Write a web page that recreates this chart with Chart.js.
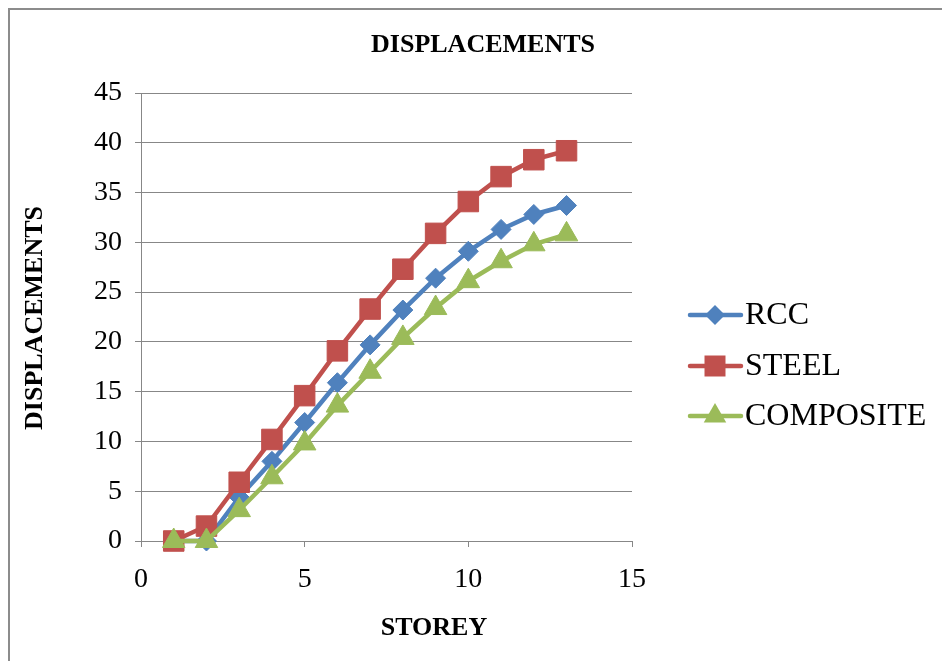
<!DOCTYPE html>
<html>
<head>
<meta charset="utf-8">
<title>DISPLACEMENTS</title>
<script src="https://cdn.jsdelivr.net/npm/chart.js@4"></script>
<style>
  html, body { margin: 0; padding: 0; background: #ffffff; }
  #wrap { position: relative; width: 942px; height: 661px; overflow: hidden; }
  canvas { display: block; }
</style>
</head>
<body>
<div id="wrap"><canvas id="chart" width="942" height="661"></canvas></div>
<script>
// Storey numbers and lateral displacement per structural system
const storeys = [1, 2, 3, 4, 5, 6, 7, 8, 9, 10, 11, 12, 13];
const rcc = [0, 0, 4.4, 8.0, 11.9, 15.9, 19.7, 23.2, 26.4, 29.1, 31.3, 32.8, 33.7];
const steel = [0, 1.5, 5.9, 10.2, 14.6, 19.1, 23.3, 27.3, 30.9, 34.1, 36.6, 38.3, 39.2];
const composite = [0, 0, 3.1, 6.4, 9.8, 13.6, 17.0, 20.4, 23.4, 26.1, 28.1, 29.8, 30.8];

const seriesNames = ['RCC', 'STEEL', 'COMPOSITE'];
const chartTitle = 'DISPLACEMENTS';
const xTitle = 'STOREY';
const yTitle = 'DISPLACEMENTS';
const xTicks = [0, 5, 10, 15];
const yTicks = [0, 5, 10, 15, 20, 25, 30, 35, 40, 45];

const SERIF = '"Liberation Serif", "Times New Roman", serif';
const GRID = '#878787';

function toPoints(values) {
  return storeys.map((s, i) => ({ x: s, y: values[i] }));
}

const styles = [
  { color: '#4F81BD', point: 'rectRot', radius: 10 },
  { color: '#C0504D', point: 'rect', radius: 14.5 },
  { color: '#9BBB59', point: 'triangle', radius: 13 }
];

const datasets = [rcc, steel, composite].map((vals, i) => ({
  label: seriesNames[i],
  data: toPoints(vals),
  borderColor: styles[i].color,
  backgroundColor: styles[i].color,
  borderWidth: 4.5,
  pointStyle: styles[i].point,
  pointRadius: styles[i].radius,
  pointHoverRadius: styles[i].radius,
  pointBorderWidth: 1,
  pointBorderColor: styles[i].color,
  pointBackgroundColor: styles[i].color,
  tension: 0,
  clip: false,
  order: 2 - i
}));

// Frame, titles and the series key drawn onto the canvas
const decorations = {
  id: 'decorations',
  beforeDraw(chart) {
    const ctx = chart.ctx;
    ctx.save();
    ctx.strokeStyle = '#8c8c8c';
    ctx.lineWidth = 2;
    ctx.beginPath();
    ctx.moveTo(9, 700);
    ctx.lineTo(9, 9);
    ctx.lineTo(960, 9);
    ctx.stroke();
    ctx.restore();
  },
  afterDraw(chart) {
    const ctx = chart.ctx;
    ctx.save();
    ctx.fillStyle = '#000000';
    ctx.textAlign = 'center';
    ctx.textBaseline = 'middle';
    ctx.font = 'bold 26px ' + SERIF;
    ctx.fillText(chartTitle, 483, 45);
    ctx.fillText(xTitle, 434, 628);
    ctx.save();
    ctx.translate(35, 318);
    ctx.rotate(-Math.PI / 2);
    ctx.fillText(yTitle, 0, 0);
    ctx.restore();

    // series key
    const rows = [315, 366, 416];
    chart.data.datasets.forEach((ds, i) => {
      const y = rows[i];
      const st = styles[i];
      ctx.strokeStyle = st.color;
      ctx.lineWidth = 4.5;
      ctx.lineCap = 'round';
      ctx.beginPath();
      ctx.moveTo(690, y);
      ctx.lineTo(741, y);
      ctx.stroke();
      ctx.fillStyle = st.color;
      const cx = 715;
      ctx.beginPath();
      if (st.point === 'rectRot') {
        const r = 10;
        ctx.moveTo(cx - r, y); ctx.lineTo(cx, y - r); ctx.lineTo(cx + r, y); ctx.lineTo(cx, y + r);
      } else if (st.point === 'rect') {
        const h = 10.5;
        ctx.rect(cx - h, y - h, 2 * h, 2 * h);
      } else {
        const r = 13;
        ctx.moveTo(cx, y - r);
        ctx.lineTo(cx + r * Math.sin(2 * Math.PI / 3), y + r / 2);
        ctx.lineTo(cx - r * Math.sin(2 * Math.PI / 3), y + r / 2);
      }
      ctx.closePath();
      ctx.fill();
      ctx.fillStyle = '#000000';
      ctx.textAlign = 'left';
      ctx.font = '32px ' + SERIF;
      ctx.fillText(ds.label, 745, y + 1);
    });
    ctx.restore();
  }
};

new Chart(document.getElementById('chart'), {
  type: 'line',
  data: { datasets },
  options: {
    responsive: false,
    animation: false,
    events: [],
    layout: { padding: { top: 93, right: 310, left: 0, bottom: 0 } },
    plugins: {
      legend: { display: false },
      title: { display: false },
      tooltip: { enabled: false }
    },
    scales: {
      x: {
        type: 'linear',
        min: 0,
        max: 15,
        afterFit(scale) { scale.height = 120; },
        afterBuildTicks(scale) { scale.ticks = xTicks.map(v => ({ value: v })); },
        ticks: {
          color: '#000000',
          font: { family: SERIF, size: 28 },
          padding: 16,
          maxRotation: 0
        },
        grid: { drawOnChartArea: false, drawTicks: true, tickLength: 6, color: GRID, lineWidth: 1 },
        border: { display: true, color: GRID, width: 1 }
      },
      y: {
        type: 'linear',
        min: 0,
        max: 45,
        afterFit(scale) { scale.width = 141; },
        afterBuildTicks(scale) { scale.ticks = yTicks.map(v => ({ value: v })); },
        ticks: {
          color: '#000000',
          font: { family: SERIF, size: 28 },
          padding: 13
        },
        grid: { drawTicks: true, tickLength: 6, color: GRID, lineWidth: 1 },
        border: { display: true, color: GRID, width: 1 }
      }
    }
  },
  plugins: [decorations]
});
</script>
</body>
</html>
